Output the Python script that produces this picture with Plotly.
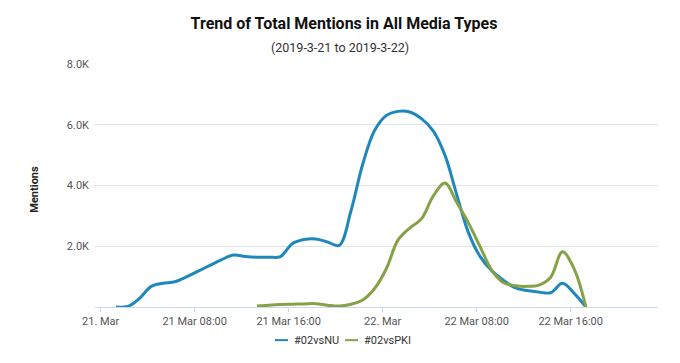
import pandas as pd
import plotly.graph_objects as go

# ---- data ----
nu_times = pd.date_range("2019-03-21 01:18", periods=41, freq="h")
nu_values = [0, 20, 280, 680, 780, 830, 990, 1180, 1370, 1560, 1710, 1665, 1640, 1640,
             1660, 2080, 2220, 2240, 2140, 2030, 3160, 4700, 5800, 6300, 6440, 6420,
             6200, 5800, 5000, 3700, 2450, 1660, 1190, 870, 630, 540, 490, 470, 780,
             450, 0]

pki_times = pd.date_range("2019-03-21 13:18", periods=29, freq="h")
pki_values = [30, 60, 80, 90, 100, 110, 60, 30, 90, 230, 600, 1250, 2200, 2600, 2900,
              3650, 4080, 3450, 2770, 1980, 1200, 800, 700, 680, 720, 980, 1820, 1250, 0]

series_names = ["#02vsNU", "#02vsPKI"]
series_colors = ["#1f88bb", "#87a147"]

x_tick_vals = ["2019-03-21 00:00", "2019-03-21 08:00", "2019-03-21 16:00",
               "2019-03-22 00:00", "2019-03-22 08:00", "2019-03-22 16:00"]
x_tick_text = ["21. Mar", "21 Mar 08:00", "21 Mar 16:00",
               "22. Mar", "22 Mar 08:00", "22 Mar 16:00"]
y_tick_vals = [2000, 4000, 6000, 8000]
y_tick_text = ["2.0K", "4.0K", "6.0K", "8.0K"]

FONT = "Roboto"

fig = go.Figure()
for t, v, n, c in [(nu_times, nu_values, series_names[0], series_colors[0]),
                   (pki_times, pki_values, series_names[1], series_colors[1])]:
    fig.add_trace(go.Scatter(x=t, y=v, name=n, mode="lines",
                             line=dict(color=c, width=3, shape="spline", smoothing=1.0),
                             showlegend=False))

# The page body has an 8px default margin, so the figure is drawn 8px smaller
# and all reference pixel positions are shifted by that offset.
OFF = 8
W, H = 680 - OFF, 363 - OFF
L, R, T, B = 95 - OFF, 658 - OFF, 64 - OFF, 307.5 - OFF
pw, ph = R - L, B - T

def px_x(x):
    return (x - OFF - L) / pw

def px_y(y):
    return (B - (y - OFF)) / ph

fig.update_layout(
    width=W, height=H,
    margin=dict(l=L, r=W - R, t=T, b=H - B),
    paper_bgcolor="white", plot_bgcolor="white",
    font=dict(family=FONT, size=11, color="#666666"),
    title=dict(text="<b>Trend of Total Mentions in All Media Types</b>",
               font=dict(family=FONT, size=16, color="#111111"),
               x=0.5, xref="container", xanchor="center",
               y=1 - (23 - OFF) / H, yref="container", yanchor="middle"),
    xaxis=dict(range=["2019-03-20 23:31", "2019-03-22 23:26"],
               tickvals=x_tick_vals, ticktext=x_tick_text,
               showgrid=False, showline=True, linecolor="#ccd6eb", linewidth=1,
               ticks="outside", ticklen=4, tickcolor="#ccd6eb",
               tickfont=dict(family=FONT, size=11, color="#555555"),
               zeroline=False),
    yaxis=dict(range=[0, 8000], tickvals=y_tick_vals, ticktext=y_tick_text,
               showgrid=True, gridcolor="#dde6ee", gridwidth=1,
               zeroline=False, showline=False, ticks="", ticklabelstandoff=5,
               tickfont=dict(family=FONT, size=11, color="#555555")),
)

annotations = [
    dict(text="(2019-3-21 to 2019-3-22)", xref="paper", yref="paper",
         x=px_x(340), y=px_y(47), xanchor="center", yanchor="middle", showarrow=False,
         font=dict(family=FONT, size=12.5, color="#333333")),
    dict(text="<b>Mentions</b>", xref="paper", yref="paper", textangle=-90,
         x=px_x(35), y=px_y(190), xanchor="center", yanchor="middle", showarrow=False,
         font=dict(family=FONT, size=11, color="#222222")),
]

# legend (manual, to match the compact original)
legend_y = 340.7
legend_items = [(275, 288, 292, series_names[0], series_colors[0]),
                (345, 358, 362, series_names[1], series_colors[1])]
shapes = []
for x0, x1, xt, name, col in legend_items:
    shapes.append(dict(type="line", xref="paper", yref="paper",
                       x0=px_x(x0), x1=px_x(x1), y0=px_y(legend_y), y1=px_y(legend_y),
                       line=dict(color=col, width=2)))
    annotations.append(dict(text=name, xref="paper", yref="paper", x=px_x(xt),
                            y=px_y(legend_y), xanchor="left", yanchor="middle",
                            showarrow=False,
                            font=dict(family=FONT, size=11, color="#333333")))

fig.update_layout(annotations=annotations, shapes=shapes)

fig.write_html("out.html")
